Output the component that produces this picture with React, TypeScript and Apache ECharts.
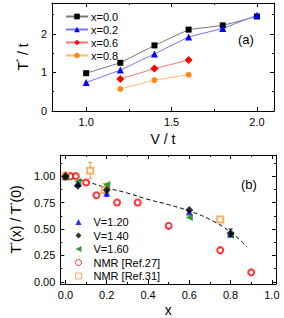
import React, { useEffect, useRef } from "react";
import * as echarts from "echarts";

// ---------- data: panel (a) ----------
const vTop = [1.0, 1.2, 1.4, 1.6, 1.8, 2.0];
const t00 = [0.98, 1.25, 1.7, 2.11, 2.22, 2.45];
const t02 = [0.74, 1.06, 1.48, 1.92, 2.14, 2.48];
const vShort = [1.2, 1.4, 1.6];
const t06 = [0.83, 1.1, 1.32];
const t08 = [0.57, 0.8, 0.94];
const topXTicks = [1.0, 1.5, 2.0];
const topXMinor = [1.25, 1.75];
const topYTicks = [0, 1, 2];
const topYMinor = [0.5, 1.5, 2.5];

// ---------- data: panel (b) ----------
const xB = [0, 0.06, 0.2, 0.6, 0.8];
const v120 = [1.0, 0.93, 0.84, 0.66, 0.45];
const v140 = [1.0, 0.91, 0.87, 0.68, 0.46];
const v160 = [0.99, 0.95, 0.92, 0.61, 0.44];
const nmr27X = [0, 0.025, 0.05, 0.1, 0.15, 0.25, 0.35, 0.5, 0.75, 0.9];
const nmr27Y = [1.0, 1.0, 1.0, 0.94, 0.82, 0.75, 0.75, 0.53, 0.3, 0.09];
const nmr31X = [0, 0.12, 0.19, 0.75];
const nmr31Y = [1.0, 1.05, 0.87, 0.59];
const fitX = [0, 0.1, 0.2, 0.3, 0.4, 0.5, 0.6, 0.7, 0.8, 0.88];
const fitY = [1.0, 0.95, 0.89, 0.84, 0.78, 0.73, 0.67, 0.59, 0.47, 0.33];
// error bars: x, low, high, colour index
const errBars = [
  [0, 0.96, 1.04, 0],
  [0.12, 0.98, 1.13, 0],
  [0.19, 0.84, 0.93, 0],
  [0.2, 0.81, 0.87, 1],
  [0.8, 0.43, 0.5, 2],
];
const botXTicks = [0, 0.2, 0.4, 0.6, 0.8, 1.0];
const botXMinor = [0.1, 0.3, 0.5, 0.7, 0.9];
const botYTicks = [0, 0.25, 0.5, 0.75, 1.0];
const botYMinor = [0.125, 0.375, 0.625, 0.875, 1.125];

const FONT = "'Liberation Sans', Arial, Helvetica, sans-serif";
const errColors = ["#f39c3c", "#0000ff", "#000000"];
const LEFT_TRI = "path://M0,5L10,0L10,10Z";

const zip = (xs: number[], ys: number[]) => xs.map((x, i) => [x, ys[i]]);

function axisPair(
  gridIndex: number,
  position: string,
  min: number,
  max: number,
  majors: number[],
  minors: number[],
  showLabel: boolean,
  fmt: (v: number) => string,
  extra: any = {}
) {
  const major = {
    type: "value",
    gridIndex,
    position,
    min,
    max,
    axisLine: { show: true, onZero: false, lineStyle: { color: "#000", width: 1 } },
    axisTick: { show: true, inside: true, length: 4, customValues: majors, lineStyle: { color: "#000" } },
    axisLabel: {
      show: showLabel,
      customValues: majors,
      formatter: (v: number) => fmt(v),
      color: "#000",
      fontSize: 11,
      fontFamily: FONT,
      margin: 5,
    },
    splitLine: { show: false },
    ...extra,
  };
  const minor = {
    type: "value",
    gridIndex,
    position,
    min,
    max,
    axisLine: { show: false, onZero: false },
    axisTick: { show: true, inside: true, length: 2, customValues: minors, lineStyle: { color: "#000" } },
    axisLabel: { show: false },
    splitLine: { show: false },
  };
  return [major, minor];
}

export default function App() {
  const ref = useRef<HTMLDivElement>(null);
  useEffect(() => {
    if (!ref.current) return;
    const chart = echarts.init(ref.current, null, { renderer: "svg" });
    const f1 = (v: number) => v.toFixed(1);
    const f0 = (v: number) => String(Math.round(v));
    const f2 = (v: number) => v.toFixed(2);
    const nameStyle = { color: "#000", fontSize: 14, fontFamily: FONT };
    const supRich = {
      sup: { fontSize: 8, verticalAlign: "top", padding: [0, 0, 8, 0], color: "#000", fontFamily: FONT },
    };

    const xAxis = [
      ...axisPair(0, "bottom", 0.8, 2.1, topXTicks, topXMinor, true, f1, {
        name: "V / t",
        nameLocation: "middle",
        nameGap: 21,
        nameTextStyle: nameStyle,
      }),
      ...axisPair(0, "top", 0.8, 2.1, topXTicks, topXMinor, false, f1),
      ...axisPair(1, "bottom", -0.025, 1.02, botXTicks, botXMinor, true, f1, {
        name: "x",
        nameLocation: "middle",
        nameGap: 19,
        nameTextStyle: nameStyle,
      }),
      ...axisPair(1, "top", -0.025, 1.02, botXTicks, botXMinor, false, f1),
    ];
    const yAxis = [
      ...axisPair(0, "left", 0, 2.8, topYTicks, topYMinor, true, f0, {
        name: "T{sup|*} / t",
        nameLocation: "middle",
        nameGap: 16,
        nameTextStyle: { ...nameStyle, rich: supRich },
      }),
      ...axisPair(0, "right", 0, 2.8, topYTicks, topYMinor, false, f0),
      ...axisPair(1, "left", -0.02, 1.2, botYTicks, botYMinor, true, f2, {
        name: "T{sup|*}(x) / T{sup|*}(0)",
        nameLocation: "middle",
        nameGap: 27,
        nameTextStyle: { ...nameStyle, rich: supRich },
      }),
      ...axisPair(1, "right", -0.02, 1.2, botYTicks, botYMinor, false, f2),
    ];

    const topLine = (name: string, xs: number[], ys: number[], color: string, lineColor: string, symbol: string, size: number) => ({
      type: "line",
      name,
      xAxisIndex: 0,
      yAxisIndex: 0,
      data: zip(xs, ys),
      symbol,
      symbolSize: size,
      itemStyle: { color },
      lineStyle: { color: lineColor, width: 1 },
      z: 3,
    });

    const botScatter = (name: string, xs: number[], ys: number[], color: string, symbol: string, size: number, extra: any = {}) => ({
      type: "scatter",
      name,
      xAxisIndex: 4,
      yAxisIndex: 4,
      data: zip(xs, ys),
      symbol,
      symbolSize: size,
      itemStyle: { color },
      z: 4,
      ...extra,
    });

    const option: any = {
      animation: false,
      backgroundColor: "#fff",
      textStyle: { fontFamily: FONT },
      grid: [
        { left: 52, top: 3, width: 222, height: 108 },
        { left: 53, top: 155, width: 223, height: 129 },
      ],
      xAxis,
      yAxis,
      legend: [
        {
          data: ["x=0.0", "x=0.2", "x=0.6", "x=0.8"],
          orient: "vertical",
          left: 60,
          top: 6,
          itemWidth: 22,
          itemHeight: 7,
          itemGap: 2,
          textStyle: { color: "#000", fontSize: 11, lineHeight: 10, fontFamily: FONT, padding: [0, 0, 0, -2] },
        },
        {
          data: [
            "V=1.20",
            "V=1.40",
            { name: "V=1.60", icon: LEFT_TRI },
            { name: "NMR [Ref.27]", icon: "circle", itemStyle: { color: "#fff", borderColor: "#ff0000", borderWidth: 1 } },
            { name: "NMR [Ref.31]", icon: "rect", itemStyle: { color: "#fff", borderColor: "#f39c3c", borderWidth: 1 } },
          ],
          orient: "vertical",
          left: 70,
          top: 211.5,
          itemWidth: 6,
          itemHeight: 6,
          itemGap: 2.5,
          textStyle: { color: "#000", fontSize: 11, lineHeight: 10, fontFamily: FONT, padding: [0, 0, 0, 7] },
        },
      ],
      series: [
        topLine("x=0.0", vTop, t00, "#000000", "#7a7a7a", "rect", 6),
        topLine("x=0.2", vTop, t02, "#0000ff", "#7777ff", "triangle", 7),
        topLine("x=0.6", vShort, t06, "#ff0000", "#ff7777", "diamond", 8),
        topLine("x=0.8", vShort, t08, "#ff8c1a", "#ffbb77", "circle", 6),
        {
          type: "line",
          xAxisIndex: 4,
          yAxisIndex: 4,
          data: zip(fitX, fitY),
          smooth: true,
          symbol: "none",
          lineStyle: { color: "#000", width: 1, type: [4, 3] },
          z: 2,
        },
        {
          type: "custom",
          xAxisIndex: 4,
          yAxisIndex: 4,
          data: errBars,
          z: 3,
          renderItem: (params: any, api: any) => {
            const x = api.value(0);
            const p1 = api.coord([x, api.value(1)]);
            const p2 = api.coord([x, api.value(2)]);
            const c = errColors[api.value(3)];
            const style = { stroke: c, lineWidth: 1 };
            return {
              type: "group",
              children: [
                { type: "line", shape: { x1: p1[0], y1: p1[1], x2: p2[0], y2: p2[1] }, style },
                { type: "line", shape: { x1: p1[0] - 2, y1: p1[1], x2: p1[0] + 2, y2: p1[1] }, style },
                { type: "line", shape: { x1: p2[0] - 2, y1: p2[1], x2: p2[0] + 2, y2: p2[1] }, style },
              ],
            };
          },
        },
        botScatter("NMR [Ref.27]", nmr27X, nmr27Y, "#ff0000", "emptyCircle", 6, { itemStyle: { color: "#ff0000", borderWidth: 1 } }),
        botScatter("NMR [Ref.31]", nmr31X, nmr31Y, "#f39c3c", "emptyRect", 6, { itemStyle: { color: "#f39c3c", borderWidth: 1 } }),
        botScatter("V=1.20", xB, v120, "#0000ff", "triangle", 7),
        botScatter("V=1.60", xB, v160, "#008000", LEFT_TRI, 7),
        botScatter("V=1.40", xB, v140, "#000000", "diamond", 8),
      ],
      graphic: [
        { type: "text", left: 238, top: 33, style: { text: "(a)", fontSize: 13, fontFamily: FONT, fill: "#000" } },
        { type: "text", left: 241, top: 178, style: { text: "(b)", fontSize: 13, fontFamily: FONT, fill: "#000" } },
      ],
    };
    chart.setOption(option);
    return () => chart.dispose();
  }, []);
  return <div ref={ref} style={{ position: "fixed", left: 0, top: 0, width: 284, height: 318 }} />;
}
